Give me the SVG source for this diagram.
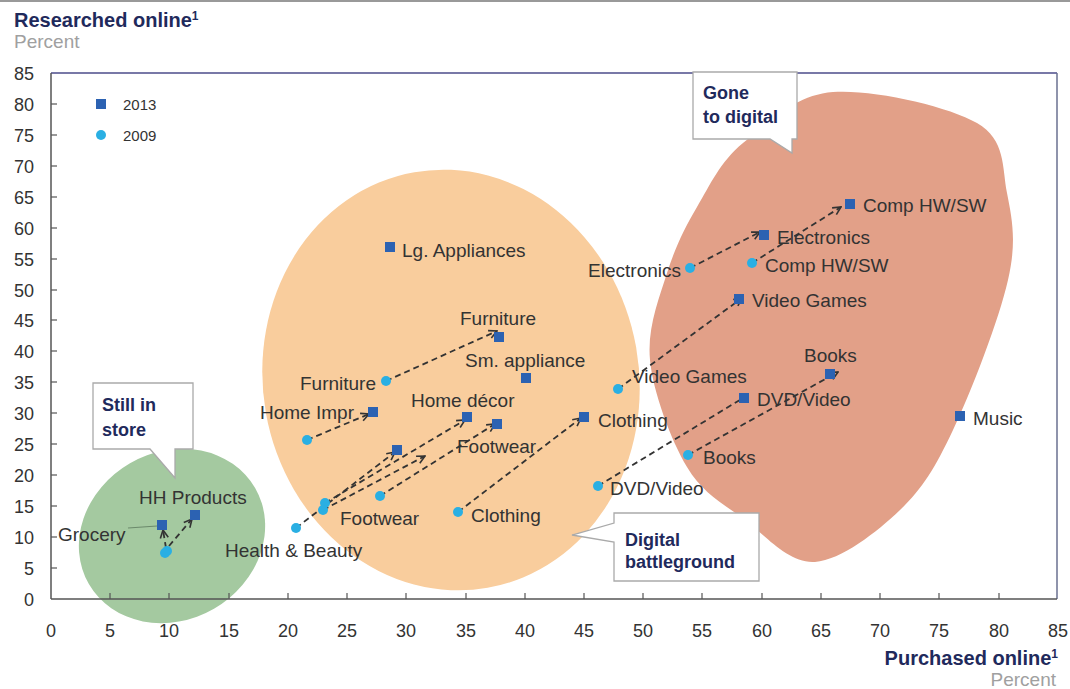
<svg xmlns="http://www.w3.org/2000/svg" width="1070" height="689" viewBox="0 0 1070 689">
<defs>
<style>
.t{font-family:"Liberation Sans",Arial,sans-serif;font-size:19px;fill:#333}
.ax{font-family:"Liberation Sans",Arial,sans-serif;font-size:18px;fill:#333}
.hd{font-family:"Liberation Sans",Arial,sans-serif;font-size:20px;font-weight:bold;fill:#1f2a5c}
.pc{font-family:"Liberation Sans",Arial,sans-serif;font-size:19px;fill:#a0a0a0}
.co{font-family:"Liberation Sans",Arial,sans-serif;font-size:18px;font-weight:bold;fill:#1f2a5c}
.lg{font-family:"Liberation Sans",Arial,sans-serif;font-size:15px;fill:#333}
.sq{fill:#2c62b2}
.ci{fill:#2aafe3}
.ar{fill:none;stroke:#333;stroke-width:1.8;stroke-dasharray:6 4;marker-end:url(#ah)}
.box{fill:#fff;stroke:#aaa;stroke-width:1.3}
.tk{stroke:#555;stroke-width:1.2}
</style>
<marker id="ah" viewBox="0 0 10 10" refX="9" refY="5" markerWidth="10" markerHeight="10" markerUnits="userSpaceOnUse" orient="auto">
<path d="M1,1 L9,5 L1,9" fill="none" stroke="#333" stroke-width="1.6"/>
</marker>
</defs>
<rect width="1070" height="689" fill="#fff"/>
<line x1="0" y1="1" x2="1070" y2="1" stroke="#999" stroke-width="2"/>
<text class="hd" x="14" y="27">Researched online<tspan font-size="12" dy="-7">1</tspan></text>
<text class="pc" x="14" y="48">Percent</text>

<g id="bubbles">
<ellipse cx="172" cy="536" rx="96" ry="84" transform="rotate(-30 172 536)" fill="#a4c9a0"/>
<ellipse cx="451" cy="380" rx="188" ry="211" transform="rotate(-10 451 380)" fill="#f9cd9d"/>
<path fill="#e2a088" d="M833,92 C872,89 948,106 977,123 C1006,140 1002,167 1007,193 C1012,219 1017,241 1008,280 C999,320 971,392 953,430 C935,468 923,488 900,510 C877,532 841,560 815,562 C789,564 766,536 745,520 C724,504 703,494 687,467 C671,440 653,392 650,360 C647,328 659,299 667,273 C675,248 684,229 697,207 C710,185 720,162 743,143 C766,124 794,95 833,92 Z"/>
</g>

<g id="axes">
<line x1="51" y1="73" x2="1057" y2="73" stroke="#4b4b8a" stroke-width="1.5"/>
<line x1="1057" y1="73" x2="1057" y2="599" stroke="#6a7090" stroke-width="1.5"/>
<line x1="51" y1="73" x2="51" y2="599" stroke="#555" stroke-width="1.5"/>
<line x1="51" y1="599" x2="1057" y2="599" stroke="#555" stroke-width="1.5"/>
<g class="tk">
<line x1="51" y1="568" x2="57" y2="568"/><line x1="51" y1="537" x2="57" y2="537"/><line x1="51" y1="506" x2="57" y2="506"/><line x1="51" y1="475" x2="57" y2="475"/><line x1="51" y1="444" x2="57" y2="444"/><line x1="51" y1="413" x2="57" y2="413"/><line x1="51" y1="382" x2="57" y2="382"/><line x1="51" y1="351" x2="57" y2="351"/><line x1="51" y1="320" x2="57" y2="320"/><line x1="51" y1="290" x2="57" y2="290"/><line x1="51" y1="259" x2="57" y2="259"/><line x1="51" y1="228" x2="57" y2="228"/><line x1="51" y1="197" x2="57" y2="197"/><line x1="51" y1="166" x2="57" y2="166"/><line x1="51" y1="135" x2="57" y2="135"/><line x1="51" y1="104" x2="57" y2="104"/>
<line x1="110" y1="599" x2="110" y2="593"/><line x1="169" y1="599" x2="169" y2="593"/><line x1="229" y1="599" x2="229" y2="593"/><line x1="288" y1="599" x2="288" y2="593"/><line x1="347" y1="599" x2="347" y2="593"/><line x1="406" y1="599" x2="406" y2="593"/><line x1="466" y1="599" x2="466" y2="593"/><line x1="525" y1="599" x2="525" y2="593"/><line x1="584" y1="599" x2="584" y2="593"/><line x1="643" y1="599" x2="643" y2="593"/><line x1="702" y1="599" x2="702" y2="593"/><line x1="762" y1="599" x2="762" y2="593"/><line x1="821" y1="599" x2="821" y2="593"/><line x1="880" y1="599" x2="880" y2="593"/><line x1="939" y1="599" x2="939" y2="593"/><line x1="999" y1="599" x2="999" y2="593"/>
</g>
<g class="ax" text-anchor="end">
<text x="34" y="80">85</text><text x="34" y="111">80</text><text x="34" y="142">75</text><text x="34" y="173">70</text><text x="34" y="204">65</text><text x="34" y="235">60</text><text x="34" y="266">55</text><text x="34" y="297">50</text><text x="34" y="327">45</text><text x="34" y="358">40</text><text x="34" y="389">35</text><text x="34" y="420">30</text><text x="34" y="451">25</text><text x="34" y="482">20</text><text x="34" y="513">15</text><text x="34" y="544">10</text><text x="34" y="575">5</text><text x="34" y="606">0</text>
</g>
<g class="ax" text-anchor="middle">
<text x="51" y="637">0</text><text x="110" y="637">5</text><text x="169" y="637">10</text><text x="229" y="637">15</text><text x="288" y="637">20</text><text x="347" y="637">25</text><text x="406" y="637">30</text><text x="466" y="637">35</text><text x="525" y="637">40</text><text x="584" y="637">45</text><text x="643" y="637">50</text><text x="702" y="637">55</text><text x="762" y="637">60</text><text x="821" y="637">65</text><text x="880" y="637">70</text><text x="939" y="637">75</text><text x="999" y="637">80</text><text x="1058" y="637">85</text>
</g>
<text class="hd" x="1058" y="665" text-anchor="end" font-size="19">Purchased online<tspan font-size="12" dy="-7">1</tspan></text>
<text class="pc" x="1056" y="686" text-anchor="end">Percent</text>
</g>

<g id="legend">
<rect class="sq" x="96" y="99" width="10" height="10"/>
<text class="lg" x="123" y="110">2013</text>
<circle class="ci" cx="101" cy="135" r="5"/>
<text class="lg" x="123" y="141">2009</text>
</g>

<g id="callout-store">
<path class="box" d="M93,383 H193 V449 H175 V478 L150,449 H93 Z"/>
<text class="co" x="102" y="411">Still in</text>
<text class="co" x="102" y="436">store</text>
</g>
<g id="callout-digital">
<path class="box" d="M693,72 H797 V139 H792 V153 L770,139 H693 Z"/>
<text class="co" x="703" y="99">Gone</text>
<text class="co" x="703" y="123">to digital</text>
</g>
<g id="callout-battle">
<path class="box" d="M614,513 H759 V581 H614 V542 L572,535 L614,523 Z"/>
<text class="co" x="625" y="546">Digital</text>
<text class="co" x="625" y="568">battleground</text>
</g>

<g id="connectors">
<line class="ar" x1="690" y1="268" x2="760" y2="232"/>
<line class="ar" x1="752" y1="263" x2="841" y2="207"/>
<line class="ar" x1="618" y1="389" x2="742" y2="298"/>
<line class="ar" x1="688" y1="455" x2="838" y2="372"/>
<line class="ar" x1="598" y1="486" x2="748" y2="395"/>
<line class="ar" x1="386" y1="381" x2="497" y2="331"/>
<line class="ar" x1="307" y1="440" x2="369" y2="414"/>
<line class="ar" x1="458" y1="512" x2="581" y2="418"/>
<line class="ar" x1="380" y1="496" x2="495" y2="424"/>
<line class="ar" x1="296" y1="528" x2="395" y2="452"/>
<line class="ar" x1="325" y1="503" x2="465" y2="420"/>
<line class="ar" x1="323" y1="510" x2="425" y2="456"/>
<line class="ar" x1="166" y1="548" x2="163" y2="530"/>
<line class="ar" x1="169" y1="546" x2="192" y2="519"/>
<line x1="128" y1="528" x2="157" y2="526" stroke="#6b8a6b" stroke-width="1.2"/>
</g>

<g id="points2009">
<circle class="ci" cx="690" cy="268" r="5"/>
<circle class="ci" cx="752" cy="263" r="5"/>
<circle class="ci" cx="618" cy="389" r="5"/>
<circle class="ci" cx="688" cy="455" r="5"/>
<circle class="ci" cx="598" cy="486" r="5"/>
<circle class="ci" cx="386" cy="381" r="5"/>
<circle class="ci" cx="307" cy="440" r="5"/>
<circle class="ci" cx="380" cy="496" r="5"/>
<circle class="ci" cx="458" cy="512" r="5"/>
<circle class="ci" cx="296" cy="528" r="5"/>
<circle class="ci" cx="325" cy="503" r="5"/>
<circle class="ci" cx="323" cy="510" r="5"/>
<circle class="ci" cx="167" cy="551" r="5"/>
<circle class="ci" cx="165" cy="553" r="5"/>
</g>

<g id="points2013">
<rect class="sq" x="845" y="199" width="10" height="10"/>
<rect class="sq" x="759" y="230" width="10" height="10"/>
<rect class="sq" x="734" y="294" width="10" height="10"/>
<rect class="sq" x="825" y="369" width="10" height="10"/>
<rect class="sq" x="739" y="393" width="10" height="10"/>
<rect class="sq" x="955" y="411" width="10" height="10"/>
<rect class="sq" x="385" y="242" width="10" height="10"/>
<rect class="sq" x="494" y="332" width="10" height="10"/>
<rect class="sq" x="521" y="373" width="10" height="10"/>
<rect class="sq" x="368" y="407" width="10" height="10"/>
<rect class="sq" x="462" y="412" width="10" height="10"/>
<rect class="sq" x="492" y="419" width="10" height="10"/>
<rect class="sq" x="579" y="412" width="10" height="10"/>
<rect class="sq" x="392" y="445" width="10" height="10"/>
<rect class="sq" x="190" y="510" width="10" height="10"/>
<rect class="sq" x="157" y="520" width="10" height="10"/>
</g>

<g id="labels">
<text class="t" x="863" y="212">Comp HW/SW</text>
<text class="t" x="777" y="244">Electronics</text>
<text class="t" x="681" y="277" text-anchor="end">Electronics</text>
<text class="t" x="765" y="272">Comp HW/SW</text>
<text class="t" x="752" y="307">Video Games</text>
<text class="t" x="804" y="362">Books</text>
<text class="t" x="757" y="406">DVD/Video</text>
<text class="t" x="973" y="425">Music</text>
<text class="t" x="632" y="383">Video Games</text>
<text class="t" x="703" y="464">Books</text>
<text class="t" x="610" y="495">DVD/Video</text>
<text class="t" x="598" y="427">Clothing</text>
<text class="t" x="471" y="522">Clothing</text>
<text class="t" x="402" y="257">Lg. Appliances</text>
<text class="t" x="460" y="325">Furniture</text>
<text class="t" x="465" y="367">Sm. appliance</text>
<text class="t" x="376" y="390" text-anchor="end">Furniture</text>
<text class="t" x="260" y="419">Home Impr</text>
<text class="t" x="411" y="407">Home décor</text>
<text class="t" x="457" y="453">Footwear</text>
<text class="t" x="340" y="525">Footwear</text>
<text class="t" x="225" y="557">Health &amp; Beauty</text>
<text class="t" x="139" y="504">HH Products</text>
<text class="t" x="58" y="541">Grocery</text>
</g>
</svg>
